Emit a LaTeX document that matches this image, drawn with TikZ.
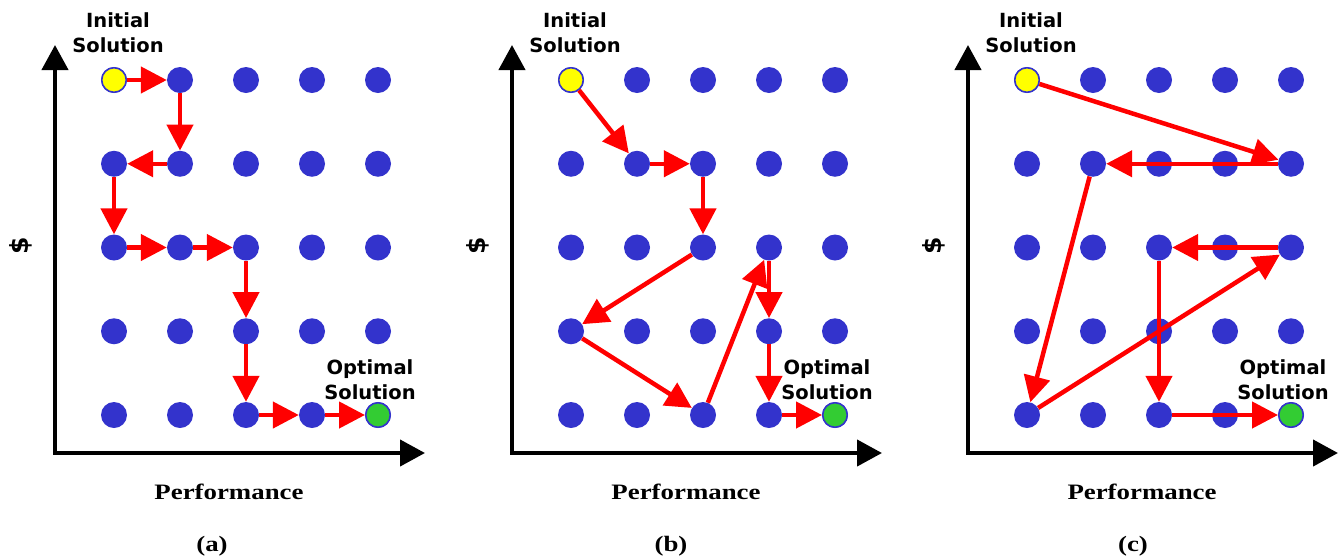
\documentclass[tikz,border=0pt]{standalone}
\usepackage{fontspec}
\setmainfont{Liberation Serif}
\newfontfamily\verdfont{DejaVu Sans}
\usetikzlibrary{arrows.meta,positioning,calc}
\definecolor{dotblue}{RGB}{51,51,204}
\definecolor{inityellow}{RGB}{255,255,0}
\definecolor{optgreen}{RGB}{51,204,51}
\definecolor{pathred}{RGB}{255,0,0}

\begin{document}
\begin{tikzpicture}[x=1pt, y=-1pt,
    gridpt/.style={circle, fill=dotblue, inner sep=0pt, minimum size=26pt},
    endpt/.style={gridpt, draw=dotblue, line width=1.5pt, minimum size=24.5pt},
    init/.style={endpt, fill=inityellow},
    opt/.style={endpt, fill=optgreen},
    axis/.style={{Triangle[length=25pt,width=26pt]}-{Triangle[length=25pt,width=26pt]}, line width=4.2pt},
    arrow/.style={-{Triangle[length=26pt,width=26pt]}, pathred, line width=4.5pt},
    tag/.style={font=\verdfont\bfseries\fontsize{19.5}{25.5}\selectfont, align=center, inner sep=0pt},
    title/.style={font=\bfseries\fontsize{22}{24}\selectfont, inner sep=0pt}
]
    \useasboundingbox (0,0) rectangle (1339,558);

    % three panels: grid, axes, labels
    \foreach \p/\dx/\cx in {a/0/212, b/457/671, c/913/1133}{
        \foreach \i in {1,...,5}
            \foreach \j in {1,...,5}
                \node[gridpt] (\p-\i-\j) at ({\dx+114+66*(\i-1)}, {80+83.75*(\j-1)}) {};

        \coordinate (\p-top) at (\dx+55,45);
        \coordinate (\p-o) at (\dx+55,453);
        \coordinate (\p-right) at (\dx+425,453);
        \draw[axis] (\p-top) -- (\p-o) -- (\p-right);

        \node[init] (\p-init) at (\p-1-1) {};
        \node[opt] (\p-opt) at (\p-5-5) {};
        \node[tag, above=14pt of \p-init, xshift=4pt] (\p-initlbl) {Initial\\Solution};
        \node[tag, above=2pt of \p-opt, xshift=-8pt] (\p-optlbl) {Optimal\\Solution};

        \node[rotate=90, inner sep=0pt, font=\verdfont\bfseries\fontsize{25}{27}\selectfont] (\p-cost) at (\dx+21,246) {\$};
        \node[title] (\p-perf) at (\dx+229,492) {\scalebox{1.22}[1]{Performance}};
        \node[title] (\p-cap) at (\cx,546) {\scalebox{1.22}[1]{(\p)}};
    }

    % (a) step by step
    \draw[arrow] (a-init) -- (a-2-1);
    \draw[arrow] (a-2-1) -- (a-2-2);
    \draw[arrow] (a-2-2) -- (a-1-2);
    \draw[arrow] (a-1-2) -- (a-1-3);
    \draw[arrow] (a-1-3) -- (a-2-3);
    \draw[arrow] (a-2-3) -- (a-3-3);
    \draw[arrow] (a-3-3) -- (a-3-4);
    \draw[arrow] (a-3-4) -- (a-3-5);
    \draw[arrow] (a-3-5) -- (a-4-5);
    \draw[arrow] (a-4-5) -- (a-opt);

    % (b)
    \draw[arrow] (b-init) -- (b-2-2);
    \draw[arrow] (b-2-2) -- (b-3-2);
    \draw[arrow] (b-3-2) -- (b-3-3);
    \draw[arrow] (b-3-3) -- (b-1-4);
    \draw[arrow] (b-1-4) -- (b-3-5);
    \draw[arrow] (b-3-5) -- (b-4-3);
    \draw[arrow] (b-4-3) -- (b-4-4);
    \draw[arrow] (b-4-4) -- (b-4-5);
    \draw[arrow] (b-4-5) -- (b-opt);

    % (c) long jumps
    \draw[arrow] (c-init) -- (c-5-2);
    \draw[arrow] (c-5-2) -- (c-2-2);
    \draw[arrow] (c-2-2) -- (c-1-5);
    \draw[arrow] (c-1-5) -- (c-5-3);
    \draw[arrow] (c-5-3) -- (c-3-3);
    \draw[arrow] (c-3-3) -- (c-3-5);
    \draw[arrow] (c-3-5) -- (c-opt);
\end{tikzpicture}
\end{document}
